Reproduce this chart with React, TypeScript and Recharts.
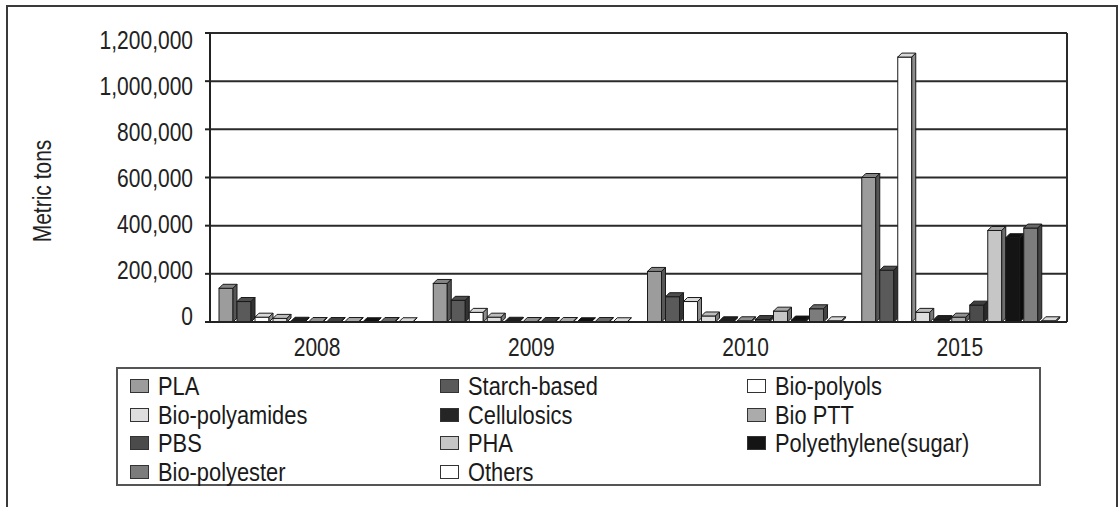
import React from 'react';
import { BarChart, Bar, XAxis, YAxis, CartesianGrid, ReferenceLine } from 'recharts';

// Years on the category axis
const categories = ['2008', '2009', '2010', '2015'];

// Production capacity per material (metric tons), one value per year
const plaValues = [140000, 160000, 210000, 600000];
const starchValues = [85000, 90000, 105000, 215000];
const polyolValues = [20000, 40000, 85000, 1100000];
const polyamideValues = [15000, 20000, 25000, 40000];
const celluloseValues = [3000, 3000, 5000, 10000];
const pttValues = [2000, 2000, 5000, 20000];
const pbsValues = [2000, 2000, 10000, 70000];
const phaValues = [2000, 2000, 45000, 380000];
const peValues = [1000, 1000, 8000, 350000];
const polyesterValues = [2000, 2000, 55000, 390000];
const otherValues = [1000, 1000, 5000, 5000];

const yTicks = [0, 200000, 400000, 600000, 800000, 1000000, 1200000];
const Y_MAX = 1200000;

const seriesNames = [
  'PLA', 'Starch-based', 'Bio-polyols',
  'Bio-polyamides', 'Cellulosics', 'Bio PTT',
  'PBS', 'PHA', 'Polyethylene(sugar)',
  'Bio-polyester', 'Others',
];
const seriesValues = [
  plaValues, starchValues, polyolValues,
  polyamideValues, celluloseValues, pttValues,
  pbsValues, phaValues, peValues,
  polyesterValues, otherValues,
];
const seriesFills = [
  '#9c9c9c', '#5a5a5a', '#ffffff',
  '#dedede', '#252525', '#ababab',
  '#4b4b4b', '#c6c6c6', '#141414',
  '#7c7c7c', '#ffffff',
];

const data = categories.map((year, i) => {
  const row: Record<string, string | number> = { year };
  seriesNames.forEach((name, s) => {
    row[name] = seriesValues[s][i];
  });
  return row;
});

const FONT = "'Liberation Sans', Arial, sans-serif";
const SQUEEZE = 0.84; // condensed look for all chart text

function shade(hex: string, f: number) {
  const n = parseInt(hex.slice(1), 16);
  const r = Math.round(((n >> 16) & 255) * f);
  const g = Math.round(((n >> 8) & 255) * f);
  const b = Math.round((n & 255) * f);
  return `rgb(${r},${g},${b})`;
}

// Bar with a shallow extruded top and right side
const Bar3D = (props: any) => {
  const { x, y, width, height, fill } = props;
  if (width == null || height == null) return null;
  const d = 4;
  const fw = Math.max(width - d, 1);
  const h = Math.max(height, 0);
  const top = `${x},${y} ${x + d},${y - d} ${x + fw + d},${y - d} ${x + fw},${y}`;
  const side = `${x + fw},${y} ${x + fw + d},${y - d} ${x + fw + d},${y + h - d} ${x + fw},${y + h}`;
  return (
    <g stroke="#1a1a1a" strokeWidth={1}>
      <rect x={x} y={y} width={fw} height={h} fill={fill} />
      <polygon points={top} fill={shade(fill, 0.85)} />
      <polygon points={side} fill={shade(fill, 0.55)} />
    </g>
  );
};

const XTick = (props: any) => {
  const { x, y, payload } = props;
  return (
    <g transform={`translate(${x},${y})`}>
      <text transform={`scale(${SQUEEZE},1)`} textAnchor="middle" dy="0.71em" fontSize={25} fill="#222" fontFamily={FONT}>
        {payload.value}
      </text>
    </g>
  );
};

const YTick = (props: any) => {
  const { x, y, payload } = props;
  // labels sit a little tighter than the gridlines
  const shift = 7 - ((Y_MAX - payload.value) / Y_MAX) * 13;
  return (
    <g transform={`translate(${x},${y + shift})`}>
      <text transform={`scale(${SQUEEZE},1)`} textAnchor="end" dy="0.36em" fontSize={25} fill="#222" fontFamily={FONT}>
        {Number(payload.value).toLocaleString('en-US')}
      </text>
    </g>
  );
};

const YLabel = () => (
  <g transform="translate(42,191) rotate(-90)">
    <text transform={`scale(${SQUEEZE},1)`} textAnchor="middle" dy="0.36em" fontSize={25} fill="#222" fontFamily={FONT}>
      Metric tons
    </text>
  </g>
);

const legendCols = [130, 440, 747];
const legendRows = [386, 414.5, 443, 471.5];

export default function App() {
  return (
    <div style={{ position: 'absolute', left: 0, top: 0, width: 1118, height: 507, background: '#fff', overflow: 'hidden', fontFamily: FONT }}>
      <div style={{ position: 'absolute', left: 6, top: 5, width: 1108, height: 520, borderTop: '2px solid #3a3a3a', borderLeft: '2px solid #3a3a3a', borderRight: '2px solid #3a3a3a' }} />
      <div style={{ position: 'absolute', left: 0, top: 0 }}>
        <BarChart
          width={1118}
          height={507}
          data={data}
          margin={{ top: 33, right: 51, left: 130, bottom: 145 }}
          barCategoryGap={9}
          barGap={0}
        >
          <CartesianGrid vertical={false} stroke="#2a2a2a" strokeWidth={2} />
          <XAxis
            dataKey="year"
            height={40}
            axisLine={{ stroke: '#222', strokeWidth: 2 }}
            tickLine={false}
            tickSize={6}
            tickMargin={10}
            tick={XTick}
          />
          <YAxis
            width={80}
            domain={[0, Y_MAX]}
            ticks={yTicks}
            interval={0}
            axisLine={{ stroke: '#222', strokeWidth: 2 }}
            tickLine={{ stroke: '#222', strokeWidth: 2 }}
            tickSize={5}
            tickMargin={12}
            tick={YTick}
            label={<YLabel />}
          />
          <ReferenceLine x="2015" position="end" stroke="#2a2a2a" strokeWidth={2} />
          {seriesNames.map((name, s) => (
            <Bar key={name} dataKey={name} fill={seriesFills[s]} shape={Bar3D} isAnimationActive={false} />
          ))}
        </BarChart>
      </div>
      <div style={{ position: 'absolute', left: 116, top: 367, width: 921, height: 115, border: '2px solid #555' }} />
      {seriesNames.map((name, s) => {
        const col = s % 3;
        const row = Math.floor(s / 3);
        const cx = legendCols[col];
        const cy = legendRows[row];
        return (
          <div key={name} style={{ position: 'absolute', left: cx, top: cy - 15, height: 30, display: 'flex', alignItems: 'center', whiteSpace: 'nowrap' }}>
            <span style={{ display: 'inline-block', width: 17, height: 12, background: seriesFills[s], border: '1.5px solid #333', marginRight: 9 }} />
            <span style={{ display: 'inline-block', fontSize: 26, color: '#1a1a1a', lineHeight: '30px', transform: `scaleX(${SQUEEZE})`, transformOrigin: 'left center' }}>{name}</span>
          </div>
        );
      })}
    </div>
  );
}
